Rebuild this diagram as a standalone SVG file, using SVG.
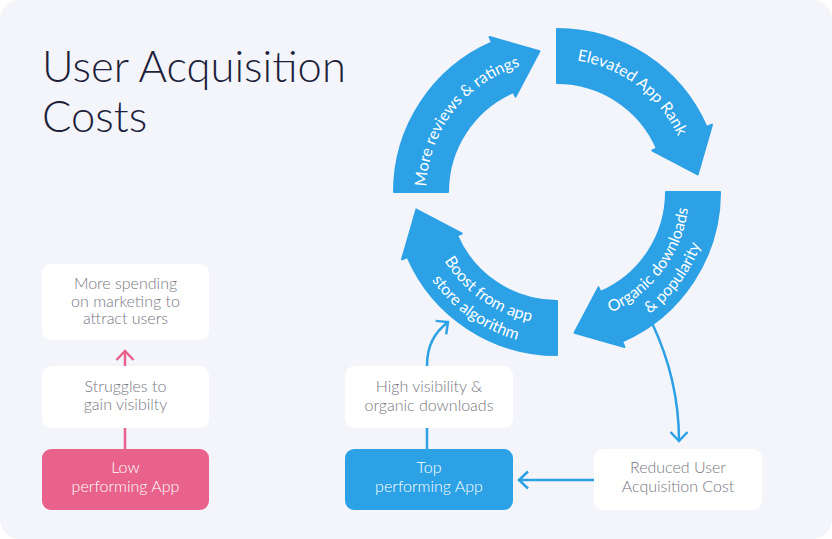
<svg xmlns="http://www.w3.org/2000/svg" xmlns:xlink="http://www.w3.org/1999/xlink" width="832" height="539" viewBox="0 0 832 539">
<style>
.bg{fill:#f4f5fa}
.seg{fill:#2ca1e6;stroke:#2ca1e6;stroke-width:2;stroke-linejoin:round}
.segtxt{font-family:"Lato","Liberation Sans",sans-serif;font-size:16px;fill:#fff}
.box{fill:#fff}
.btxt{font-family:"Lato","Liberation Sans",sans-serif;font-weight:300;font-size:16px;fill:#77777f;text-anchor:middle}
.wtxt{font-family:"Lato","Liberation Sans",sans-serif;font-weight:300;font-size:16px;fill:#fff;text-anchor:middle}
.title{font-family:"Lato","Liberation Sans",sans-serif;font-weight:300;font-size:43.5px;fill:#1e1f3b}
.cb{fill:none;stroke:#2ca1e6;stroke-width:2.5}
.cp{fill:none;stroke:#e8628b;stroke-width:2.5}
</style>
<defs>
<path id="arrowSeg" d="M557,29 A163,163 0 0 1 706.48,127.0 L711.98,124.61 L697.67,174.45 L652.37,150.53 L656.96,148.54 A109,109 0 0 0 557,83 Z"/>
<path id="pElev" d="M550.04,59.18 A133,133 0 0 1 686.59,162.08"/>
<path id="pMore" d="M426.08,196.57 A131,131 0 0 1 529.76,63.86"/>
<path id="pOrg1" d="M587.82,320.35 A132,132 0 0 0 688.75,183.94"/>
<path id="pOrg2" d="M592.72,340.77 A153,153 0 0 0 709.71,182.66"/>
<path id="pBoo1" d="M429.50,226.16 A132,132 0 0 0 568.51,323.50"/>
<path id="pBoo2" d="M409.21,231.60 A153,153 0 0 0 570.34,344.42"/>
<marker id="chevB" markerUnits="userSpaceOnUse" markerWidth="24" markerHeight="24" viewBox="-12 -12 24 24" refX="0" refY="0" orient="auto">
<path d="M-9,-8.5 L0,0 L-9,8.5" fill="none" stroke="#2ca1e6" stroke-width="2.5"/>
</marker>
<marker id="chevP" markerUnits="userSpaceOnUse" markerWidth="24" markerHeight="24" viewBox="-12 -12 24 24" refX="0" refY="0" orient="auto">
<path d="M-9,-8.5 L0,0 L-9,8.5" fill="none" stroke="#e8628b" stroke-width="2.5"/>
</marker>
</defs>
<rect width="832" height="539" fill="#fff"/>
<rect class="bg" x="0" y="0" width="832" height="539" rx="20"/>

<g id="title">
<text class="title" x="42" y="82">User Acquisition</text>
<text class="title" x="42" y="132">Costs</text>
</g>

<g id="connectors">
<path class="cp" d="M125,449 L125,428"/>
<path class="cp" d="M125,366 L125,351" marker-end="url(#chevP)"/>
<path class="cb" d="M427,449 L427,428"/>
<path class="cb" d="M427,366 C427,346 434,333 448,322" marker-end="url(#chevB)"/>
<path class="cb" d="M652,323 Q679,380 679,441" marker-end="url(#chevB)"/>
<path class="cb" d="M594,480 L519,480" marker-end="url(#chevB)"/>
</g>

<g id="elevated-app-rank">
<use xlink:href="#arrowSeg" class="seg"/>
<text class="segtxt" text-anchor="middle"><textPath xlink:href="#pElev" startOffset="50%">Elevated App Rank</textPath></text>
</g>
<g id="organic-downloads">
<use xlink:href="#arrowSeg" class="seg" transform="rotate(90 557 192)"/>
<text class="segtxt" text-anchor="middle"><textPath xlink:href="#pOrg1" startOffset="50%">Organic downloads</textPath></text>
<text class="segtxt" text-anchor="middle"><textPath xlink:href="#pOrg2" startOffset="50%">&amp; popularity</textPath></text>
</g>
<g id="boost-algorithm">
<use xlink:href="#arrowSeg" class="seg" transform="rotate(180 557 192)"/>
<text class="segtxt" text-anchor="middle"><textPath xlink:href="#pBoo1" startOffset="50%">Boost from app</textPath></text>
<text class="segtxt" text-anchor="middle"><textPath xlink:href="#pBoo2" startOffset="50%">store algorithm</textPath></text>
</g>
<g id="more-reviews">
<use xlink:href="#arrowSeg" class="seg" transform="rotate(270 557 192)"/>
<text class="segtxt" text-anchor="middle"><textPath xlink:href="#pMore" startOffset="50%">More reviews &amp; ratings</textPath></text>
</g>

<g id="more-spending">
<rect class="box" x="42" y="264" width="167" height="76" rx="9"/>
<text class="btxt" x="125.5" y="289">More spending</text>
<text class="btxt" x="125.5" y="306.5">on marketing to</text>
<text class="btxt" x="125.5" y="324">attract users</text>
</g>
<g id="struggles">
<rect class="box" x="42" y="366" width="167" height="62" rx="9"/>
<text class="btxt" x="125.5" y="392">Struggles to</text>
<text class="btxt" x="125.5" y="410">gain visibilty</text>
</g>
<g id="low-performing">
<rect x="42" y="449" width="167" height="61" rx="9" fill="#e8628b"/>
<text class="wtxt" x="125.5" y="473">Low</text>
<text class="wtxt" x="125.5" y="491.5">performing App</text>
</g>
<g id="high-visibility">
<rect class="box" x="345" y="366" width="168" height="62" rx="9"/>
<text class="btxt" x="429" y="392">High visibility &amp;</text>
<text class="btxt" x="429" y="410.5">organic downloads</text>
</g>
<g id="top-performing">
<rect x="345" y="449" width="168" height="61" rx="9" fill="#2ca1e6"/>
<text class="wtxt" x="429" y="473">Top</text>
<text class="wtxt" x="429" y="491.5">performing App</text>
</g>
<g id="reduced-cost">
<rect class="box" x="594" y="449" width="168" height="61" rx="9"/>
<text class="btxt" x="678" y="473">Reduced User</text>
<text class="btxt" x="678" y="491.5">Acquisition Cost</text>
</g>
</svg>
